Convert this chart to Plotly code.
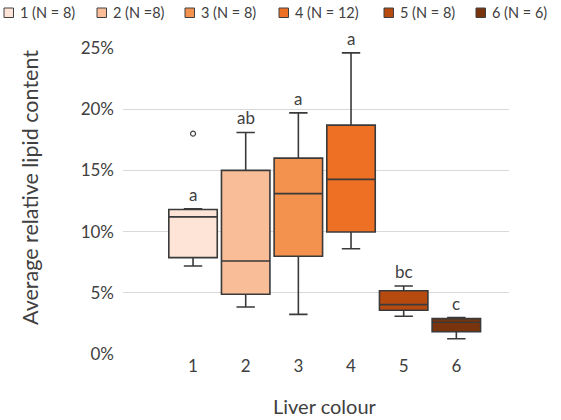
import plotly.graph_objects as go

groups = ["1", "2", "3", "4", "5", "6"]
legend_names = ["1 (N = 8)", "2 (N =8)", "3 (N = 8)", "4 (N = 12)", "5 (N = 8)", "6 (N = 6)"]
q1 = [0.0787, 0.0488, 0.0798, 0.0997, 0.0357, 0.0182]
median = [0.1120, 0.0760, 0.1310, 0.1427, 0.0403, 0.0259]
q3 = [0.1180, 0.1500, 0.1600, 0.1870, 0.0517, 0.0289]
lower = [0.0719, 0.0384, 0.0324, 0.0860, 0.0308, 0.0125]
upper = [0.1187, 0.1810, 0.1970, 0.2460, 0.0556, 0.0297]
outlier_group = [1]
outlier_value = [0.180]
sig_letters = ["a", "ab", "a", "a", "bc", "c"]
colors = ["#FDE4D6", "#F9BE98", "#F3914F", "#EE7024", "#B74A0F", "#7A340D"]
x_title = "Liver colour"
y_title = "Average relative lipid content"

# legend layout (pixels from left of the 561-px-wide figure)
legend_square_left = [4, 97, 185, 279, 384, 476]
W, H = 561, 420
ML, MR, MT, MB = 123, 52, 48, 66
PW, PH = W - ML - MR, H - MT - MB
FONT = "Lato"
TXT = "#404040"


def px_x(p):
    return (p - ML) / PW


def px_y(p):
    return 1 - (p - MT) / PH


fig = go.Figure()
for i, g in enumerate(groups):
    fig.add_trace(go.Box(
        x=[i + 1], q1=[q1[i]], median=[median[i]], q3=[q3[i]],
        lowerfence=[lower[i]], upperfence=[upper[i]],
        name=legend_names[i], fillcolor=colors[i],
        line=dict(color="#3A3A3A", width=1.6),
        width=0.92, whiskerwidth=0.38, boxpoints=False,
        showlegend=False,
    ))

fig.add_trace(go.Scatter(
    x=outlier_group, y=outlier_value, mode="markers",
    marker=dict(symbol="circle-open", size=5, color="#404040", line=dict(width=1.2)),
    showlegend=False, hoverinfo="y",
))

for i, t in enumerate(sig_letters):
    fig.add_annotation(x=i + 1, y=upper[i], text=t, showarrow=False,
                       yanchor="bottom", yshift=2,
                       font=dict(family=FONT, size=17, color=TXT))

# manual one-row legend
for i, name in enumerate(legend_names):
    x0 = legend_square_left[i]
    fig.add_shape(type="rect", xref="paper", yref="paper",
                  x0=px_x(x0), x1=px_x(x0 + 9.5),
                  y0=px_y(17.5), y1=px_y(8),
                  fillcolor=colors[i], line=dict(color="#404040", width=1))
    fig.add_annotation(xref="paper", yref="paper",
                       x=px_x(x0 + 14), y=px_y(13),
                       text=name, showarrow=False, xanchor="left", yanchor="middle",
                       font=dict(family=FONT, size=14.5, color=TXT))

# axis titles
fig.add_annotation(xref="paper", yref="paper", x=px_x(324.5), y=px_y(406),
                   text=x_title, showarrow=False, xanchor="center", yanchor="middle",
                   borderpad=0,
                   font=dict(family=FONT, size=20, color=TXT))
fig.add_annotation(xref="paper", yref="paper", x=px_x(30), y=px_y(188),
                   text=y_title, showarrow=False, textangle=-90,
                   xanchor="center", yanchor="middle",
                   font=dict(family=FONT, size=21.5, color=TXT))

fig.update_layout(
    width=W, height=H,
    margin=dict(l=ML, r=MR, t=MT, b=MB, autoexpand=False),
    paper_bgcolor="white", plot_bgcolor="white",
    font=dict(family=FONT, color=TXT),
    showlegend=False,
    boxmode="overlay",
)
fig.update_xaxes(
    range=[-0.33, 7.0], tickmode="array", tickvals=[1, 2, 3, 4, 5, 6], ticktext=groups,
    showgrid=False, zeroline=False, showline=False,
    tickfont=dict(family=FONT, size=17, color=TXT),
)
fig.update_yaxes(
    range=[0, 0.25], tickformat=".0%", dtick=0.05,
    showgrid=True, gridcolor="#D9D9D9", gridwidth=1, zeroline=False, showline=False,
    tickfont=dict(family=FONT, size=17, color=TXT), ticklabelstandoff=8,
)
fig.write_html("out.html", config={"displayModeBar": False},
               post_script="document.body.style.margin='0';document.body.style.overflow='hidden';")
